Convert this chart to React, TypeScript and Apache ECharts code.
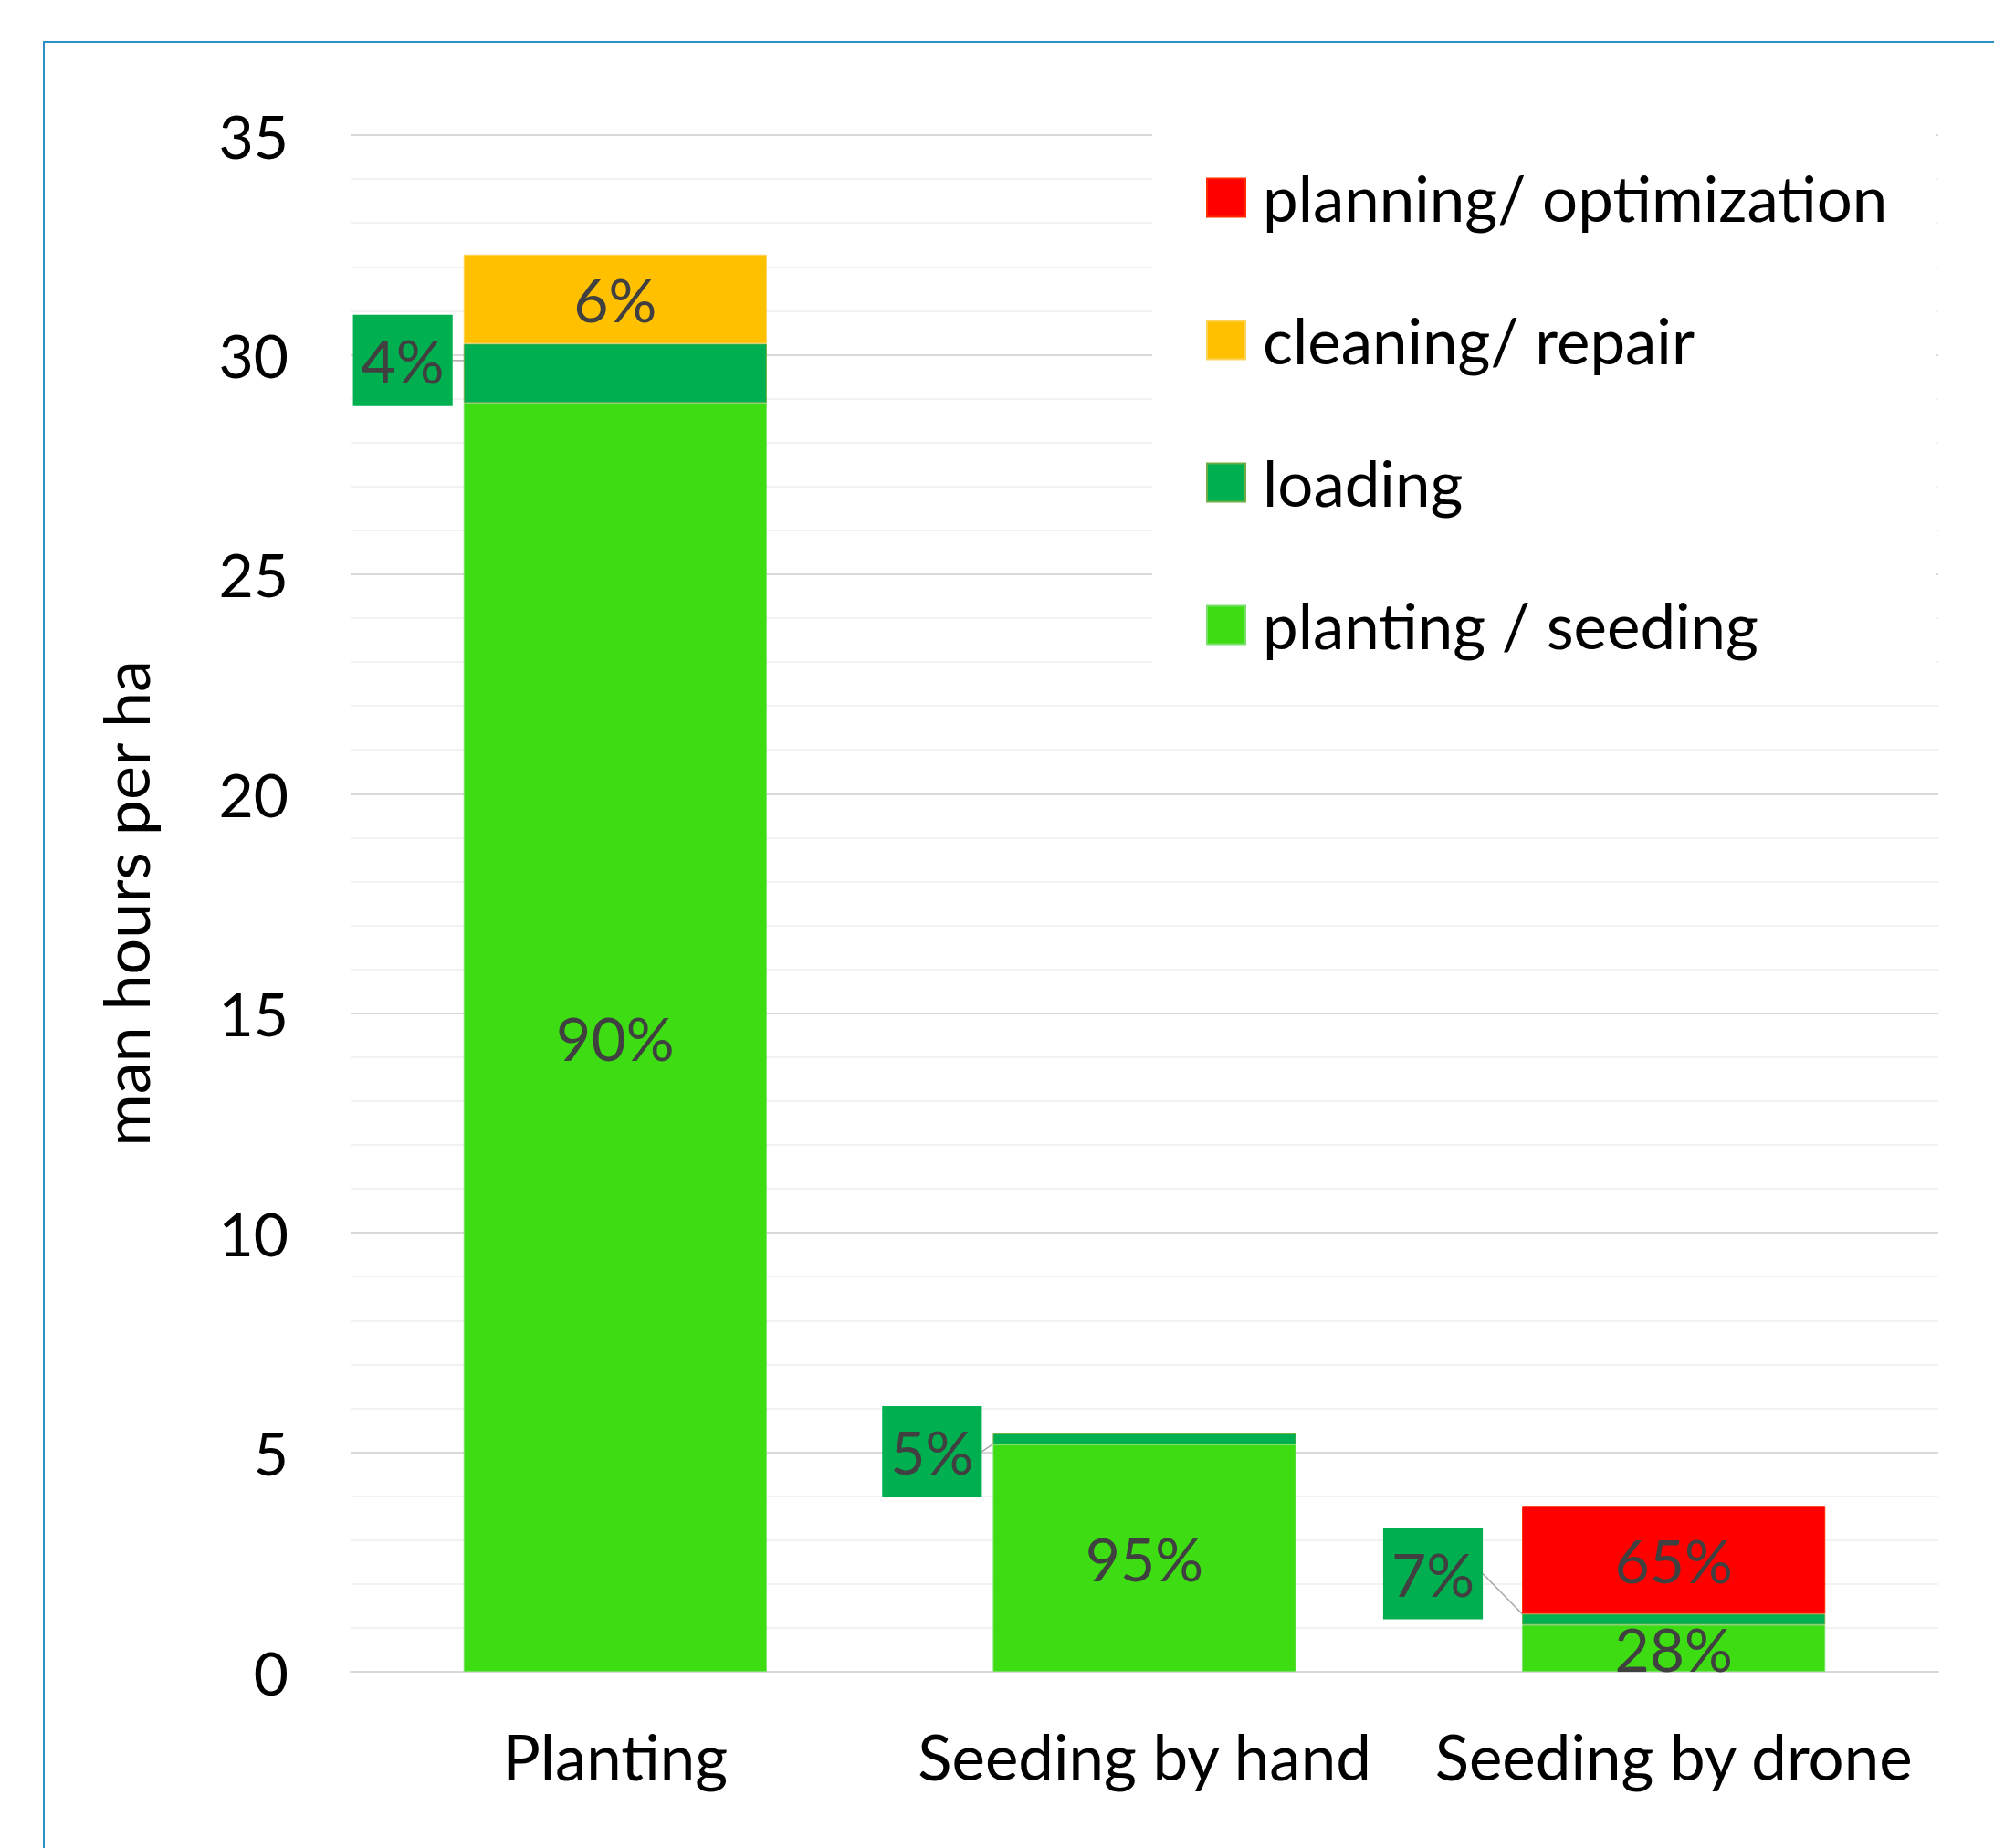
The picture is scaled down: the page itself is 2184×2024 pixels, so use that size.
import React, { useEffect, useRef } from "react";
import * as echarts from "echarts";

const categories = ["Planting", "Seeding by hand", "Seeding by drone"];
const seedingValues = [28.9, 5.18, 1.07];
const loadingValues = [1.35, 0.25, 0.25];
const cleaningValues = [2.03, null, null];
const planningValues = [null, null, 2.46];
const yTicks = [0, 5, 10, 15, 20, 25, 30, 35];

const seriesNames = ["planting / seeding", "loading", "cleaning/ repair", "planning/ optimization"];
const legendOrder = ["planning/ optimization", "cleaning/ repair", "loading", "planting / seeding"];

const COLORS = {
  seeding: "#3DDC13",
  loading: "#00B050",
  cleaning: "#FFC000",
  planning: "#FF0000",
};

// label offsets for the loading call-outs
const LOAD_DX = [0, 0, -31];
const LOAD_DY = [-14, 14, -50];

const FONT = "Lato";

function total(i: number) {
  return (
    (seedingValues[i] || 0) +
    (loadingValues[i] || 0) +
    (cleaningValues[i] || 0) +
    (planningValues[i] || 0)
  );
}

function pctFormatter(p: any) {
  const v = p.value;
  if (v === null || v === undefined || v === 0 || v === "-") return "";
  return Math.round((v / total(p.dataIndex)) * 100) + "%";
}

export default function App() {
  const ref = useRef<HTMLDivElement>(null);
  useEffect(() => {
    if (!ref.current) return;
    const chart = echarts.init(ref.current, null, { renderer: "svg" });
    const innerLabel = {
      show: true,
      position: "inside",
      formatter: pctFormatter,
      fontFamily: FONT,
      fontSize: 66,
      color: "#404040",
    };
    const option: any = {
      animation: false,
      backgroundColor: "#ffffff",
      textStyle: { fontFamily: FONT },
      grid: { left: 384, right: 61, top: 148, bottom: 193, containLabel: false },
      graphic: [
        {
          type: "rect",
          z: 0,
          shape: { x: 48, y: 46, width: 2300, height: 2100 },
          style: { fill: "none", stroke: "#2E8FC6", lineWidth: 2 },
        },
        {
          type: "rect",
          z: 1,
          shape: { x: 1262, y: 138, width: 858, height: 612 },
          style: { fill: "#ffffff" },
        },
      ],
      legend: {
        orient: "vertical",
        left: 1316,
        top: 177,
        z: 5,
        icon: "rect",
        itemWidth: 42,
        itemHeight: 42,
        itemGap: 87,
        data: legendOrder,
        textStyle: {
          fontFamily: FONT,
          fontSize: 69,
          lineHeight: 69,
          color: "#000000",
          padding: [0, 0, 0, 14],
        },
      },
      xAxis: {
        type: "category",
        data: categories,
        axisLine: { show: true, lineStyle: { color: "#D9D9D9", width: 2 } },
        axisTick: { show: false },
        axisLabel: { interval: 0, fontFamily: FONT, fontSize: 69, color: "#000000", margin: 58 },
      },
      yAxis: {
        type: "value",
        min: yTicks[0],
        max: yTicks[yTicks.length - 1],
        interval: 5,
        name: "man hours per ha",
        nameLocation: "middle",
        nameGap: 212,
        nameTextStyle: { fontFamily: FONT, fontSize: 70, color: "#000000" },
        axisLine: { show: false },
        axisTick: { show: false },
        axisLabel: {
          fontFamily: FONT,
          fontSize: 66,
          color: "#000000",
          margin: 68,
          padding: [0, 0, 20, 0],
        },
        splitLine: { show: true, lineStyle: { color: "#D9D9D9", width: 2 } },
        minorTick: { show: false, splitNumber: 5 },
        minorSplitLine: { show: true, lineStyle: { color: "#F2F2F2", width: 2 } },
      },
      series: [
        {
          name: seriesNames[0],
          type: "bar",
          stack: "total",
          data: seedingValues,
          barCategoryGap: "42.7%",
          itemStyle: { color: COLORS.seeding, borderColor: "#7BE06A", borderWidth: 1 },
          label: innerLabel,
        },
        {
          name: seriesNames[1],
          type: "bar",
          stack: "total",
          data: loadingValues,
          barCategoryGap: "42.7%",
          itemStyle: { color: COLORS.loading, borderColor: "#70AD47", borderWidth: 1 },
          label: {
            show: true,
            position: "left",
            distance: 12,
            formatter: pctFormatter,
            fontFamily: FONT,
            fontSize: 66,
            lineHeight: 80,
            color: "#404040",
            backgroundColor: COLORS.loading,
            padding: [10, 9, 10, 9],
          },
          labelLine: { show: true, lineStyle: { color: "#A6A6A6", width: 1.5 } },
          labelLayout: (params: any) => ({
            dx: LOAD_DX[params.dataIndex],
            dy: LOAD_DY[params.dataIndex],
          }),
        },
        {
          name: seriesNames[2],
          type: "bar",
          stack: "total",
          data: cleaningValues,
          barCategoryGap: "42.7%",
          itemStyle: { color: COLORS.cleaning, borderColor: "#FFD35A", borderWidth: 1 },
          label: innerLabel,
        },
        {
          name: seriesNames[3],
          type: "bar",
          stack: "total",
          data: planningValues,
          barCategoryGap: "42.7%",
          itemStyle: { color: COLORS.planning, borderColor: "#FF2A00", borderWidth: 1 },
          label: innerLabel,
        },
      ],
    };
    chart.setOption(option);
    return () => chart.dispose();
  }, []);
  return (
    <div
      ref={ref}
      style={{ position: "fixed", left: 0, top: 0, width: 2184, height: 2024 }}
    />
  );
}
